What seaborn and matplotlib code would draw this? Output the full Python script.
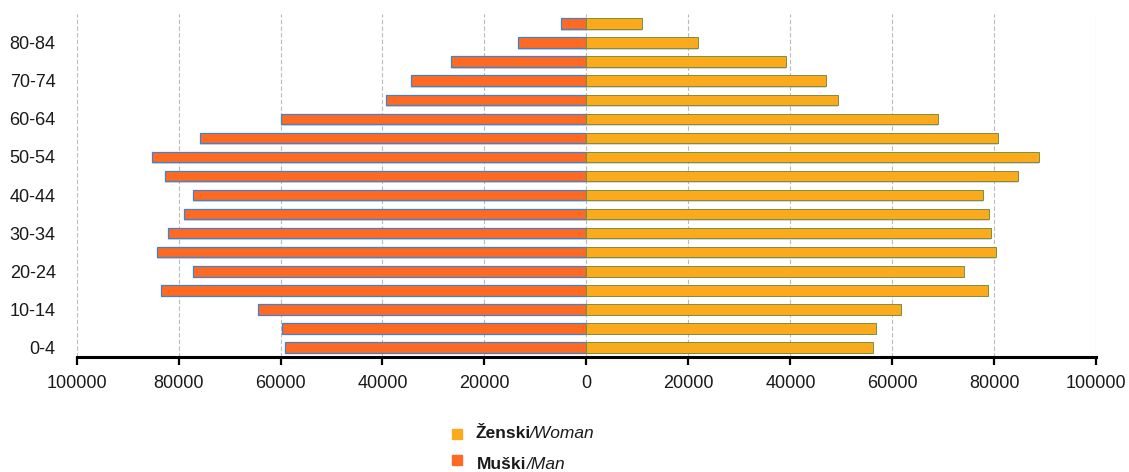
import pandas as pd
import matplotlib.pyplot as plt
import matplotlib.patches as mpatches
import seaborn as sns

# starosne grupe (od najstarije prema najmladjoj, da bi 85+ bila na vrhu)
age_groups = ['85+', '80-84', '75-79', '70-74', '65-69', '60-64', '55-59', '50-54', '45-49',
              '40-44', '35-39', '30-34', '25-29', '20-24', '15-19', '10-14', '5-9', '0-4']
shown_labels = ['0-4', '10-14', '20-24', '30-34', '40-44', '50-54', '60-64', '70-74', '80-84']

men = [4900, 13500, 26600, 34500, 39400, 60000, 75700, 85300, 82600,
       77200, 79000, 82000, 84200, 77100, 83400, 64500, 59700, 59100]
women = [10800, 21800, 39100, 46900, 49300, 69000, 80700, 88800, 84600,
         77800, 79000, 79300, 80300, 74000, 78700, 61700, 56700, 56100]

x_ticks = [-100000, -80000, -60000, -40000, -20000, 0, 20000, 40000, 60000, 80000, 100000]

df = pd.DataFrame({'age': age_groups, 'men': [-v for v in men], 'women': women})

sns.set_style('white')
plt.rcParams['font.family'] = ['Liberation Sans Narrow', 'Liberation Sans', 'DejaVu Sans']

fig = plt.figure(figsize=(11.29, 4.72), dpi=100)
ax = fig.add_axes([0.0678, 0.2436, 0.9033, 0.7267])

male_col = '#FF6A22'
female_col = '#FBAA1E'

# senka ispod traka
sns.barplot(data=df, y='age', x='men', order=age_groups, color='#AAAAAA', width=0.55,
            orient='h', errorbar=None, ax=ax, saturation=1, alpha=0.45)
sns.barplot(data=df, y='age', x='women', order=age_groups, color='#AAAAAA', width=0.55,
            orient='h', errorbar=None, ax=ax, saturation=1, alpha=0.45)
for p in ax.patches:
    p.set_y(p.get_y() + 0.09)
    p.set_linewidth(0)

sns.barplot(data=df, y='age', x='men', order=age_groups, color=male_col, width=0.55,
            orient='h', errorbar=None, ax=ax, saturation=1,
            edgecolor='#3E82D0', linewidth=0.9)
sns.barplot(data=df, y='age', x='women', order=age_groups, color=female_col, width=0.55,
            orient='h', errorbar=None, ax=ax, saturation=1,
            edgecolor='#7A8F3A', linewidth=0.7)

ax.set_xlim(-100000, 100000)
ax.set_ylim(17.5, -0.5)
ax.set_xticks(x_ticks)
ax.set_xticklabels([str(abs(t)) for t in x_ticks], fontsize=13, color='#1A1A1A')
ax.set_yticks([age_groups.index(a) for a in shown_labels])
ax.set_yticklabels(shown_labels, fontsize=13, color='#1A1A1A')
ax.set_xlabel('')
ax.set_ylabel('')

ax.grid(axis='x', color='#BBBBBB', linestyle=(0, (4, 2)), linewidth=0.8)
ax.grid(axis='y', visible=False)
ax.set_axisbelow(True)
for s in ['top', 'right', 'left']:
    ax.spines[s].set_visible(False)
ax.spines['bottom'].set_color('black')
ax.spines['bottom'].set_linewidth(2.2)
ax.tick_params(axis='x', bottom=True, direction='out', length=6, width=1.6,
               color='black', pad=7)
ax.tick_params(axis='y', left=False, length=0, pad=15)

# legenda
fig.patches.append(mpatches.Rectangle((452 / 1129, 1 - 439 / 472), 10 / 1129, 10 / 472,
                                      transform=fig.transFigure, color=female_col, figure=fig))
fig.patches.append(mpatches.Rectangle((452 / 1129, 1 - 465 / 472), 10 / 1129, 10 / 472,
                                      transform=fig.transFigure, color=male_col, figure=fig))

fig.canvas.draw()
renderer = fig.canvas.get_renderer()
for x0, y0, bold, ital in [(475, 438, 'Ženski', '/Woman'), (477, 469, 'Muški', '/Man')]:
    t = fig.text(x0 / 1129, 1 - y0 / 472, bold, fontsize=12.5, fontweight='bold',
                 color='#1A1A1A', va='baseline')
    w = t.get_window_extent(renderer).width
    fig.text((x0 + w) / 1129, 1 - y0 / 472, ital, fontsize=12.5, fontstyle='italic',
             color='#1A1A1A', va='baseline')

fig.savefig('out.png', dpi=100)
